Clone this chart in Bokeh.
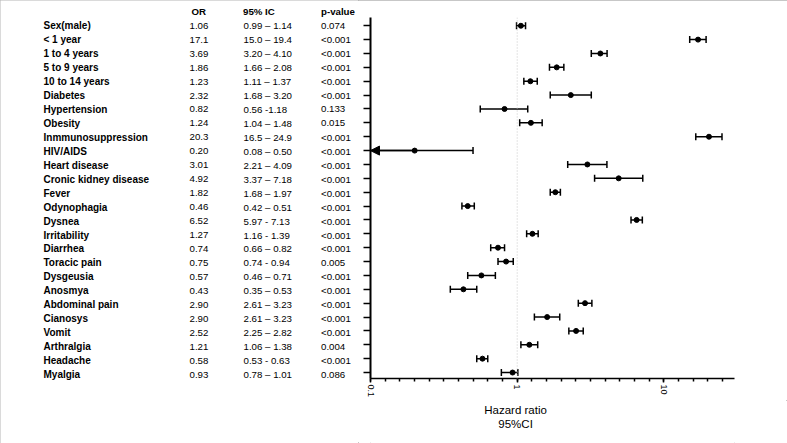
import math
from bokeh.plotting import figure
from bokeh.layouts import row, column
from bokeh.models import Range1d, FixedTicker, Span, Arrow, NormalHead
from bokeh.core.properties import value
from bokeh.embed import file_html
from bokeh.resources import INLINE

# ---------------- data ----------------
names = ["Sex(male)", "< 1 year", "1 to 4 years", "5 to 9 years", "10 to 14 years",
         "Diabetes", "Hypertension", "Obesity", "Inmmunosuppression", "HIV/AIDS",
         "Heart disease", "Cronic kidney disease", "Fever", "Odynophagia", "Dysnea",
         "Irritability", "Diarrhea", "Toracic pain", "Dysgeusia", "Anosmya",
         "Abdominal pain", "Cianosys", "Vomit", "Arthralgia", "Headache", "Myalgia"]
or_text = ["1.06", "17.1", "3.69", "1.86", "1.23", "2.32", "0.82", "1.24", "20.3", "0.20",
           "3.01", "4.92", "1.82", "0.46", "6.52", "1.27", "0.74", "0.75", "0.57", "0.43",
           "2.90", "2.90", "2.52", "1.21", "0.58", "0.93"]
ic_text = ["0.99 \u2013 1.14", "15.0 \u2013 19.4", "3.20 \u2013 4.10", "1.66 \u2013 2.08",
           "1.11 \u2013 1.37", "1.68 \u2013 3.20", "0.56 -1.18", "1.04 \u2013 1.48",
           "16.5 \u2013 24.9", "0.08 \u2013 0.50", "2.21 \u2013 4.09", "3.37 \u2013 7.18",
           "1.68 \u2013 1.97", "0.42 \u2013 0.51", "5.97 - 7.13", "1.16 - 1.39",
           "0.66 \u2013 0.82", "0.74 - 0.94", "0.46 \u2013 0.71", "0.35 \u2013 0.53",
           "2.61 \u2013 3.23", "2.61 \u2013 3.23", "2.25 \u2013 2.82", "1.06 \u2013 1.38",
           "0.53 - 0.63", "0.78 \u2013 1.01"]
p_text = ["0.074", "<0.001", "<0.001", "<0.001", "<0.001", "<0.001", "0.133", "0.015",
          "<0.001", "<0.001", "<0.001", "<0.001", "<0.001", "<0.001", "<0.001", "<0.001",
          "<0.001", "0.005", "<0.001", "<0.001", "<0.001", "<0.001", "<0.001", "0.004",
          "<0.001", "0.086"]
headers = ["OR", "95% IC", "p-value"]

# plotted estimates (as drawn in the chart)
est = [1.06, 17.1, 3.69, 1.86, 1.23, 2.32, 0.82, 1.24, 20.3, 0.20,
       3.01, 4.92, 1.82, 0.46, 6.52, 1.27, 0.74, 0.84, 0.57, 0.43,
       2.90, 1.60, 2.52, 1.21, 0.58, 0.93]
lo = [0.99, 15.0, 3.20, 1.66, 1.11, 1.68, 0.56, 1.04, 16.5, 0.08,
      2.21, 3.37, 1.68, 0.42, 5.97, 1.16, 0.66, 0.74, 0.46, 0.35,
      2.61, 1.31, 2.25, 1.06, 0.53, 0.78]
hi = [1.14, 19.4, 4.10, 2.08, 1.37, 3.20, 1.18, 1.48, 24.9, 0.50,
      4.09, 7.18, 1.97, 0.51, 7.13, 1.39, 0.82, 0.94, 0.71, 0.53,
      3.23, 1.95, 2.82, 1.38, 0.63, 1.01]

major_ticks = [0.1, 1, 10]
major_labels = ["0.1", "1", "10"]
axis_title = ["Hazard ratio", "95%CI"]

# ---------------- layout constants ----------------
FONT = "Liberation Sans"
XMIN, XMAX = 0.1, 30.3
n = len(names)
rows = list(range(n))
W, H = 787, 443
TW = 358                 # width of the table panel
FW = W - TW              # width of the forest panel
FH = 400                 # height of the forest panel
TH = H - FH              # height of the axis-title panel
F_LEFT, F_RIGHT, F_TOP, F_BOTTOM = 12, 53, 17, 20
Y0, Y1 = n - 0.57, -0.595

# ---------------- forest plot ----------------
p = figure(width=FW, height=FH, x_axis_type="log",
           x_range=Range1d(XMIN, XMAX), y_range=Range1d(Y0, Y1),
           output_backend="svg", toolbar_location=None,
           min_border_left=F_LEFT, min_border_right=F_RIGHT,
           min_border_top=F_TOP, min_border_bottom=F_BOTTOM)
p.grid.visible = False
p.outline_line_color = None

p.add_layout(Span(location=1, dimension="height", line_color="#c8c8c8",
                  line_dash="1 2", line_width=1))

lo_draw = [max(v, XMIN) for v in lo]
p.segment(x0=lo_draw, x1=hi, y0=rows, y1=rows, line_color="black", line_width=1.5)
cap_x = [v for v in lo if v >= XMIN] + hi
cap_y = [r for r, v in zip(rows, lo) if v >= XMIN] + rows
p.scatter(x=cap_x, y=cap_y, marker="dash", angle=math.pi / 2, size=7,
          line_color="black", line_width=1.5)
for r, v, e in zip(rows, lo, est):
    if v < XMIN:
        p.add_layout(Arrow(end=NormalHead(size=9, fill_color="black", line_color="black"),
                           x_start=e, y_start=r, x_end=XMIN, y_end=r,
                           line_color="black", line_width=1.5))
p.scatter(x=est, y=rows, marker="circle", size=5, fill_color="black", line_color="black")

xa = p.xaxis[0]
xa.ticker = FixedTicker(ticks=major_ticks, minor_ticks=[10 ** (k / 10 - 1) for k in range(25)])
xa.major_label_overrides = {t: l for t, l in zip(major_ticks, major_labels)}
xa.major_label_orientation = "vertical"
xa.major_label_text_font = FONT
xa.major_label_text_font_size = "9px"
xa.major_label_text_color = "black"
xa.major_label_standoff = 2
xa.axis_line_width = 1.5
xa.axis_line_color = "black"
xa.major_tick_out = 4
xa.major_tick_in = 0
xa.minor_tick_out = 3
xa.minor_tick_in = 0
xa.major_tick_line_width = 1.5
xa.minor_tick_line_width = 1.5

ya = p.yaxis[0]
ya.ticker = FixedTicker(ticks=rows)
ya.major_label_overrides = {i: "" for i in rows}
ya.major_label_standoff = 0
ya.axis_line_width = 2
ya.axis_line_color = "black"
ya.major_tick_out = 7
ya.major_tick_in = 0
ya.major_tick_line_width = 1.5
ya.minor_tick_line_color = None

# ---------------- table panel (pixel coordinates) ----------------
frame_h = FH - F_TOP - F_BOTTOM
def row_y(r):
    return F_TOP + (r - Y1) / (Y0 - Y1) * frame_h

t = figure(width=TW, height=H, x_range=Range1d(0, TW), y_range=Range1d(H, 0),
           output_backend="svg", toolbar_location=None,
           x_axis_location=None, y_axis_location=None,
           min_border_left=0, min_border_right=0, min_border_top=0, min_border_bottom=0)
t.grid.visible = False
t.outline_line_color = None

ys = [row_y(i) for i in rows]
t.text(x=[43] * n, y=ys, text=names, text_font=value(FONT), text_font_size="10px",
       text_font_style="bold", text_baseline="middle", text_color="black")
for cx, col in zip([189, 243, 320.5], [or_text, ic_text, p_text]):
    t.text(x=[cx] * n, y=ys, text=col, text_font=value(FONT), text_font_size="9.7px",
           text_baseline="middle", text_color="black")
t.text(x=[191, 242.5, 320.5], y=[row_y(-1.02)] * 3, text=headers, text_font=value(FONT),
       text_font_size="9.7px", text_font_style="bold", text_baseline="middle",
       text_color="black")

# ---------------- axis title panel ----------------
a = figure(width=FW, height=TH, x_range=Range1d(0, FW), y_range=Range1d(TH, 0),
           output_backend="svg", toolbar_location=None,
           x_axis_location=None, y_axis_location=None,
           min_border_left=0, min_border_right=0, min_border_top=0, min_border_bottom=0)
a.grid.visible = False
a.outline_line_color = None
a.text(x=[171, 171], y=[9, 23.3], text=axis_title, text_font=value(FONT),
       text_font_size="11.5px", text_align="center", text_baseline="alphabetic",
       text_color="black")

layout = row(t, column(p, a, spacing=0), spacing=0)
layout.styles = {"outline": "1px solid #b4b4b4", "outline-offset": "-1px"}
open("out.html", "w").write(file_html(layout, INLINE))
